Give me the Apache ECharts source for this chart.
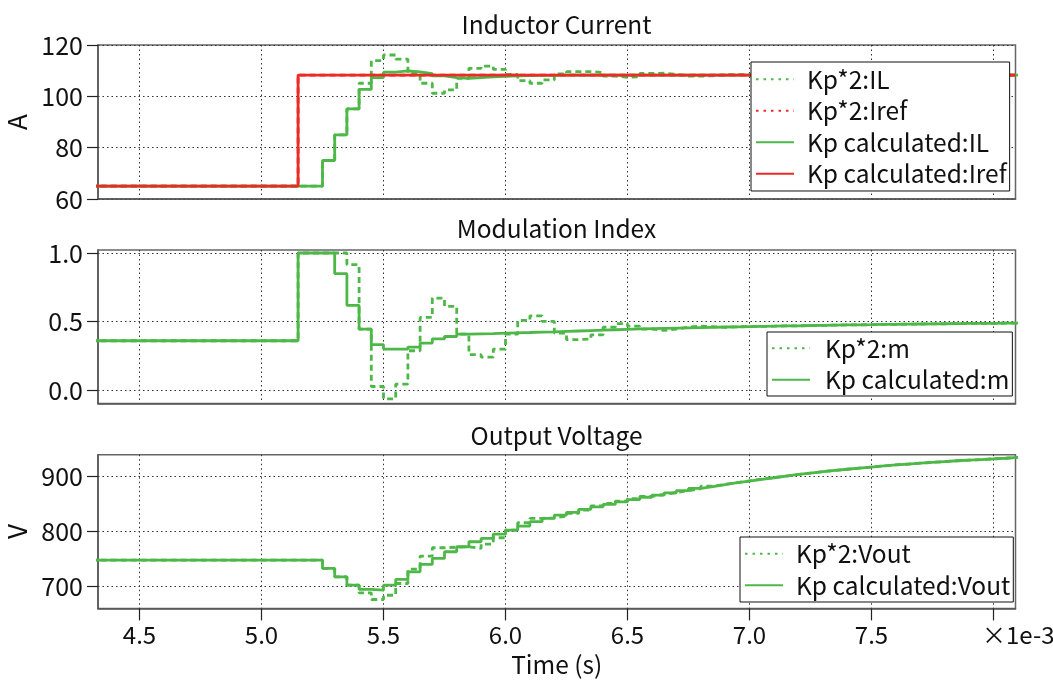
<!DOCTYPE html>
<html>
<head>
<meta charset="utf-8">
<script src="https://cdn.jsdelivr.net/npm/echarts@6/dist/echarts.min.js"></script>
<style>
html,body{margin:0;padding:0;background:#fff;}
#chart{width:1053px;height:682px;}
</style>
</head>
<body>
<div id="chart"></div>
<script>
// ---- sample times (ms): one initial point, then the 0.05 ms controller grid ----
const T = [4.30];
for (let k = 0; k < 60; k++) T.push(+(5.15 + 0.05 * k).toFixed(2));

const xTicks = [4.5, 5.0, 5.5, 6.0, 6.5, 7.0, 7.5, 8.0];
const xLabels = [4.5, 5.0, 5.5, 6.0, 6.5, 7.0, 7.5];
const yTicksI = [60, 80, 100, 120];
const yTicksM = [0, 0.5, 1.0];
const yTicksV = [700, 800, 900];

// ---- Inductor current (A) ----
const irefT = [4.30, 5.15, 8.09];
const irefV = [65, 108.3, 108.3];
const ilKp2 = [65, 65, 65, 75, 85, 95.1, 105.1, 113.9, 116.1, 114.5, 109.0, 105.1, 101.2, 102.5, 107.0,
  110.9, 111.8, 110.5, 108.5, 106.1, 105.1, 106.4, 108.7, 109.6, 109.6, 109.3, 107.9, 107.4, 107.6, 108.9,
  109.0, 108.6, 107.9, 107.9, 108.0, 108.4, 108.5, 108.4, 108.2, 108.3, 108.3, 108.3, 108.3, 108.3, 108.3,
  108.3, 108.3, 108.3, 108.3, 108.3, 108.3, 108.3, 108.3, 108.3, 108.3, 108.3, 108.3, 108.3, 108.3, 108.3, 108.3];
const ilCalc = [65, 65, 65, 75, 85, 95.1, 102.7, 107.3, 109.4, 109.9, 109.5, 108.8, 108.0, 107.3, 107.0,
  107.3, 107.6, 107.8, 108.0, 108.1, 108.2, 108.2, 108.3, 108.3, 108.3, 108.3, 108.3, 108.3, 108.3, 108.3,
  108.3, 108.3, 108.3, 108.3, 108.3, 108.3, 108.3, 108.3, 108.3, 108.3, 108.3, 108.3, 108.3, 108.3, 108.3,
  108.3, 108.3, 108.3, 108.3, 108.3, 108.3, 108.3, 108.3, 108.3, 108.3, 108.3, 108.3, 108.3, 108.3, 108.3, 108.3];

// ---- Modulation index ----
const mKp2 = [0.36, 1.0, 1.0, 1.0, 1.0, 0.915, 0.444, 0.026, -0.064, 0.044, 0.287, 0.530, 0.671, 0.611, 0.408,
  0.258, 0.241, 0.299, 0.408, 0.508, 0.542, 0.501, 0.416, 0.368, 0.372, 0.403, 0.459, 0.485, 0.466, 0.445,
  0.435, 0.445, 0.459, 0.466, 0.462, 0.458, 0.461, 0.464, 0.465, 0.466, 0.468, 0.469, 0.471, 0.472, 0.474,
  0.475, 0.476, 0.477, 0.479, 0.480, 0.481, 0.482, 0.483, 0.484, 0.485, 0.486, 0.487, 0.487, 0.488, 0.489, 0.489];
const mCalc = [0.36, 1.0, 1.0, 1.0, 0.849, 0.618, 0.444, 0.331, 0.299, 0.299, 0.314, 0.343, 0.374, 0.391, 0.408,
  0.410, 0.412, 0.415, 0.418, 0.420, 0.423, 0.425, 0.428, 0.431, 0.434, 0.437, 0.440, 0.443, 0.446, 0.448,
  0.450, 0.452, 0.454, 0.456, 0.458, 0.460, 0.461, 0.463, 0.465, 0.466, 0.468, 0.469, 0.471, 0.472, 0.474,
  0.475, 0.476, 0.477, 0.479, 0.480, 0.481, 0.482, 0.483, 0.484, 0.485, 0.486, 0.487, 0.487, 0.488, 0.489, 0.489];

// ---- Output voltage (V) ----
const vKp2 = [748, 748, 748, 732.8, 717.6, 702.4, 688.3, 676.2, 684, 705.4, 731.6, 755.3, 770.5, 771.5, 772.3,
  769.3, 777.2, 788.7, 802.7, 816, 824, 825, 828, 833, 839, 846.5, 851.4, 855.6, 860, 864,
  867.5, 871, 874.5, 878, 882.5, 886, 889, 892.5, 895.5, 898.5, 901, 904, 906.5, 909, 911.5,
  913.5, 915.5, 917.5, 919.5, 921.5, 923, 924.5, 926, 927.5, 929, 930, 931, 932.5, 933.5, 935, 936];
const vCalc = [748, 748, 748, 732.8, 717.6, 702.4, 694.5, 693.2, 702.4, 712.7, 726.7, 740.1, 751.0, 763.2, 772.3,
  781.4, 787.6, 795.4, 802.7, 810, 818, 824, 830, 835, 840.5, 845, 849.5, 854, 858, 862.5,
  866.5, 870.5, 874.5, 878.5, 882, 885.5, 889, 892, 895, 898, 901, 904, 906.5, 909, 911.5,
  913.5, 915.5, 917.5, 919.5, 921.5, 923, 924.5, 926, 927.5, 929, 930, 931, 932.5, 933.5, 935, 936];

const GREEN = '#4db848';
const RED = '#ec2b26';
const FONT = "'Noto Sans CJK JP', 'Noto Sans', sans-serif";
const DASH = [6, 4];
const FS = 24.5;

function mk(name, idx, times, vals, color, dashed) {
  return {
    name: name, type: 'line', xAxisIndex: idx, yAxisIndex: idx, step: 'end',
    symbol: 'none', showSymbol: false, animation: false, clip: true,
    data: times.map((t, i) => [t, vals[i]]),
    lineStyle: { color: color, width: 2.8, type: dashed ? DASH : 'solid' },
    itemStyle: { color: color },
    emphasis: { disabled: true }
  };
}

const gridBase = { left: 98, right: 37.5, show: true, borderColor: '#666', borderWidth: 1.5,
  backgroundColor: 'transparent', containLabel: false, outerBoundsMode: 'none' };
const dotted = { show: true, lineStyle: { color: '#333', width: 1, type: [1.5, 3] } };

function xAx(idx, bottom) {
  return {
    type: 'value', gridIndex: idx, min: 4.33, max: 8.09,
    axisLine: { show: true, onZero: false, lineStyle: { color: '#555', width: 1.5 } },
    axisTick: { show: bottom, customValues: xTicks, inside: false, length: 12, lineStyle: { color: '#222', width: 1.2 } },
    axisLabel: { show: bottom, customValues: xLabels, margin: 14, fontSize: 24, color: '#111', fontFamily: FONT,
      formatter: v => v.toFixed(1) },
    splitLine: dotted,
    name: bottom ? 'Time (s)' : '', nameLocation: 'middle', nameGap: 44,
    nameTextStyle: { fontSize: FS, color: '#111', fontFamily: FONT }
  };
}
function yAx(idx, min, max, ticks, name, dec) {
  return {
    type: 'value', gridIndex: idx, min: min, max: max,
    axisLine: { show: true, onZero: false, lineStyle: { color: '#555', width: 1.5 } },
    axisTick: { show: true, customValues: ticks, inside: false, length: 11, lineStyle: { color: '#222', width: 1.2 } },
    axisLabel: { customValues: ticks, margin: 15, fontSize: 25, color: '#111', fontFamily: FONT,
      formatter: v => v.toFixed(dec) },
    splitLine: dotted,
    name: name, nameLocation: 'middle', nameGap: 66, nameRotate: 90,
    nameTextStyle: { fontSize: 26, color: '#111', fontFamily: FONT }
  };
}
function legend(left, top, names, dashedNames, gap, padV) {
  return {
    left: left, top: top, orient: 'vertical', itemWidth: 38, itemHeight: 14, itemGap: 7,
    padding: [padV, 3, padV, 4], backgroundColor: '#fff', borderColor: '#111', borderWidth: 1,
    selectedMode: false, borderRadius: 0,
    itemStyle: { color: 'transparent', borderColor: 'transparent', borderWidth: 0, opacity: 0 },
    textStyle: { fontSize: FS, color: '#111', fontFamily: FONT, padding: [0, 0, 0, gap] },
    data: names.map(n => dashedNames.indexOf(n) >= 0
      ? { name: n, lineStyle: { type: [2.5, 5] } }
      : { name: n })
  };
}

const chart = echarts.init(document.getElementById('chart'), null, { renderer: 'canvas' });
chart.setOption({
  animation: false,
  backgroundColor: '#fff',
  textStyle: { fontFamily: FONT },
  title: [
    { text: 'Inductor Current', left: 556.5, top: 12, textAlign: 'center', padding: 0,
      textStyle: { fontSize: FS, fontWeight: 'normal', color: '#111', fontFamily: FONT } },
    { text: 'Modulation Index', left: 556.5, top: 216, textAlign: 'center', padding: 0,
      textStyle: { fontSize: FS, fontWeight: 'normal', color: '#111', fontFamily: FONT } },
    { text: 'Output Voltage', left: 556.5, top: 423, textAlign: 'center', padding: 0,
      textStyle: { fontSize: FS, fontWeight: 'normal', color: '#111', fontFamily: FONT } }
  ],
  grid: [
    Object.assign({ top: 45, height: 154 }, gridBase),
    Object.assign({ top: 250, height: 153.5 }, gridBase),
    Object.assign({ top: 454.7, height: 153.7 }, gridBase)
  ],
  xAxis: [xAx(0, false), xAx(1, false), xAx(2, true)],
  yAxis: [
    yAx(0, 60, 120, yTicksI, 'A', 0),
    yAx(1, -0.098, 1.022, yTicksM, '', 1),
    yAx(2, 660, 940, yTicksV, 'V', 0)
  ],
  legend: [
    legend(751, 62, ['Kp*2:IL', 'Kp*2:Iref', 'Kp calculated:IL', 'Kp calculated:Iref'], ['Kp*2:IL', 'Kp*2:Iref'], 8, 5),
    legend(767, 332, ['Kp*2:m', 'Kp calculated:m'], ['Kp*2:m'], 10, 4),
    legend(740, 537, ['Kp*2:Vout', 'Kp calculated:Vout'], ['Kp*2:Vout'], 8, 4.5)
  ],
  graphic: [
    { type: 'text', left: 982, top: 623, style: { text: '\u00d71e-3', fontSize: 24, fill: '#111', fontFamily: FONT } }
  ],
  series: [
    mk('Kp*2:IL', 0, T, ilKp2, GREEN, true),
    mk('Kp*2:Iref', 0, irefT, irefV, RED, true),
    mk('Kp calculated:IL', 0, T, ilCalc, GREEN, false),
    mk('Kp calculated:Iref', 0, irefT, irefV, RED, false),
    mk('Kp*2:m', 1, T, mKp2, GREEN, true),
    mk('Kp calculated:m', 1, T, mCalc, GREEN, false),
    mk('Kp*2:Vout', 2, T, vKp2, GREEN, true),
    mk('Kp calculated:Vout', 2, T, vCalc, GREEN, false)
  ]
});
</script>
</body>
</html>
